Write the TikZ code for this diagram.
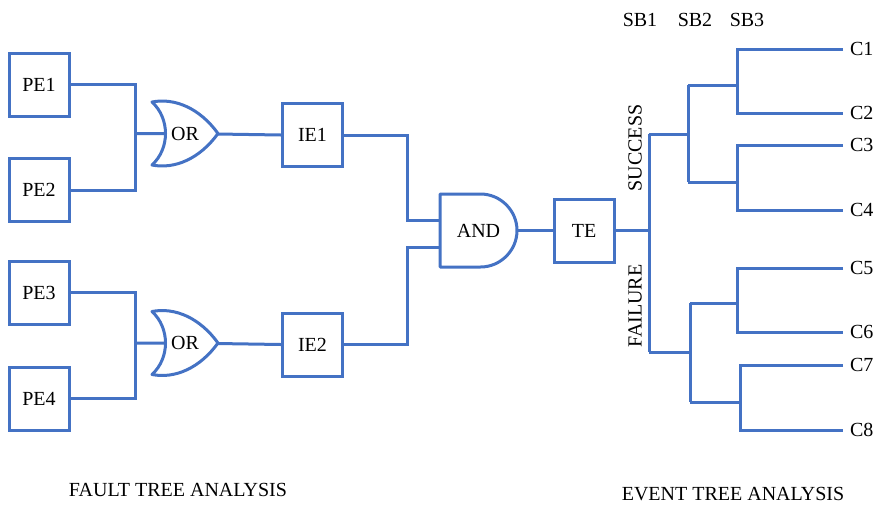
\documentclass[tikz,border=0pt]{standalone}
\usepackage{fontspec}
\setmainfont{Liberation Serif}
\usetikzlibrary{backgrounds}

\definecolor{lineblue}{RGB}{68,114,196}

\begin{document}
\begin{tikzpicture}[
                x=0.5pt, y=-0.5pt, font=\fontsize{10}{12}\selectfont,
                wire/.style={draw=lineblue, line width=1.5pt},
                gateline/.style={draw=lineblue, line width=1.5pt, fill=white, line join=round},
                event/.style={draw=lineblue, line width=1.5pt, fill=white,
                    minimum width=30pt, minimum height=31.5pt, inner sep=0pt},
                outcome/.style={anchor=west} ]

            \useasboundingbox (0,0) rectangle (881,504);

            % fault tree
            \node[event] (PE1) at (39,84.5) {PE1};
            \node[event] (PE2) at (39,190) {PE2};
            \node[event] (PE3) at (39,292.5) {PE3};
            \node[event] (PE4) at (39,398.5) {PE4};
            \node (OR1) at (185,133.5) {OR};
            \node (OR2) at (185,343) {OR};
            \node[event] (IE1) at (312.5,135) {IE1};
            \node[event] (IE2) at (312.5,344.5) {IE2};
            \node (AND) at (478.5,230.5) {AND};
            \node[event] (TE) at (584,230.5) {TE};

            \coordinate (J1) at (135,133.5);
            \coordinate (J2) at (135,343);
            \coordinate (A1) at (407,220);
            \coordinate (A2) at (407,247);

            % event tree
            \coordinate (R) at (649,230.5);
            \coordinate (S) at (649,134);
            \coordinate (F) at (649,352);
            \coordinate (S1) at (688,85);
            \coordinate (S2) at (688,182);
            \coordinate (F1) at (690,303);
            \coordinate (F2) at (690,402);
            \coordinate (T1) at (737,85);
            \coordinate (T2) at (737,182);
            \coordinate (T3) at (737,303);
            \coordinate (T4) at (740,402);

            \node[outcome] (C1) at (843,49) {C1};
            \node[outcome] (C2) at (843,113) {C2};
            \node[outcome] (C3) at (843,145) {C3};
            \node[outcome] (C4) at (843,210) {C4};
            \node[outcome] (C5) at (843,268) {C5};
            \node[outcome] (C6) at (843,332) {C6};
            \node[outcome] (C7) at (843,365) {C7};
            \node[outcome] (C8) at (843,430) {C8};

            \node (SB1) at (640,20) {SB1};
            \node (SB2) at (695,20) {SB2};
            \node (SB3) at (747,20) {SB3};
            \node[rotate=90] (succ) at (635,148) {SUCCESS};
            \node[rotate=90] (fail) at (635,306) {FAILURE};

            \node (FTA) at (178,490) {FAULT TREE ANALYSIS};
            \node (ETA) at (733,494) {EVENT TREE ANALYSIS};

            \begin{scope}[on background layer]
                \draw[wire] (PE1.east) -| (J1) |- (PE2.east);
                \draw[wire] (PE3.east) -| (J2) |- (PE4.east);
                \draw[wire] (J1) -- (OR1.center) -- (IE1.west);
                \draw[wire] (J2) -- (OR2.center) -- (IE2.west);
                \draw[wire] (IE1.east) -| (A1) -- (A1 -| AND.center);
                \draw[wire] (IE2.east) -| (A2) -- (A2 -| AND.center);
                \draw[wire] (AND.center) -- (TE.west);

                % gate outlines
                \foreach \g in {OR1, OR2} {
                    \draw[gateline, shift={(\g.center)}]
                        (-33,-31.5) .. controls (-10,-36) and (15,-25) .. (33,0)
                        .. controls (15,25) and (-10,36) .. (-33,31.5)
                        .. controls (-15,15) and (-15,-15) .. (-33,-31.5) -- cycle;
                }
                \draw[gateline, shift={(AND.center)}]
                    (-38.5,-36.5) -- (2,-36.5)
                    .. controls (22,-36.5) and (38.5,-20) .. (38.5,0)
                    .. controls (38.5,20) and (22,36.5) .. (2,36.5)
                    -- (-38.5,36.5) -- cycle;

                \draw[wire] (TE.east) -- (R);
                \draw[wire] (S) -- (F);
                \draw[wire] (S) -- (S1 |- S);
                \draw[wire] (S1) -- (S2);
                \draw[wire] (F) -- (F1 |- F);
                \draw[wire] (F1) -- (F2);
                \draw[wire] (S1) -- (T1);
                \draw[wire] (S2) -- (T2);
                \draw[wire] (F1) -- (T3);
                \draw[wire] (F2) -- (T4);
                \draw[wire] (C1.west) -| (T1) |- (C2.west);
                \draw[wire] (C3.west) -| (T2) |- (C4.west);
                \draw[wire] (C5.west) -| (T3) |- (C6.west);
                \draw[wire] (C7.west) -| (T4) |- (C8.west);
            \end{scope}

        \end{tikzpicture}
\end{document}
